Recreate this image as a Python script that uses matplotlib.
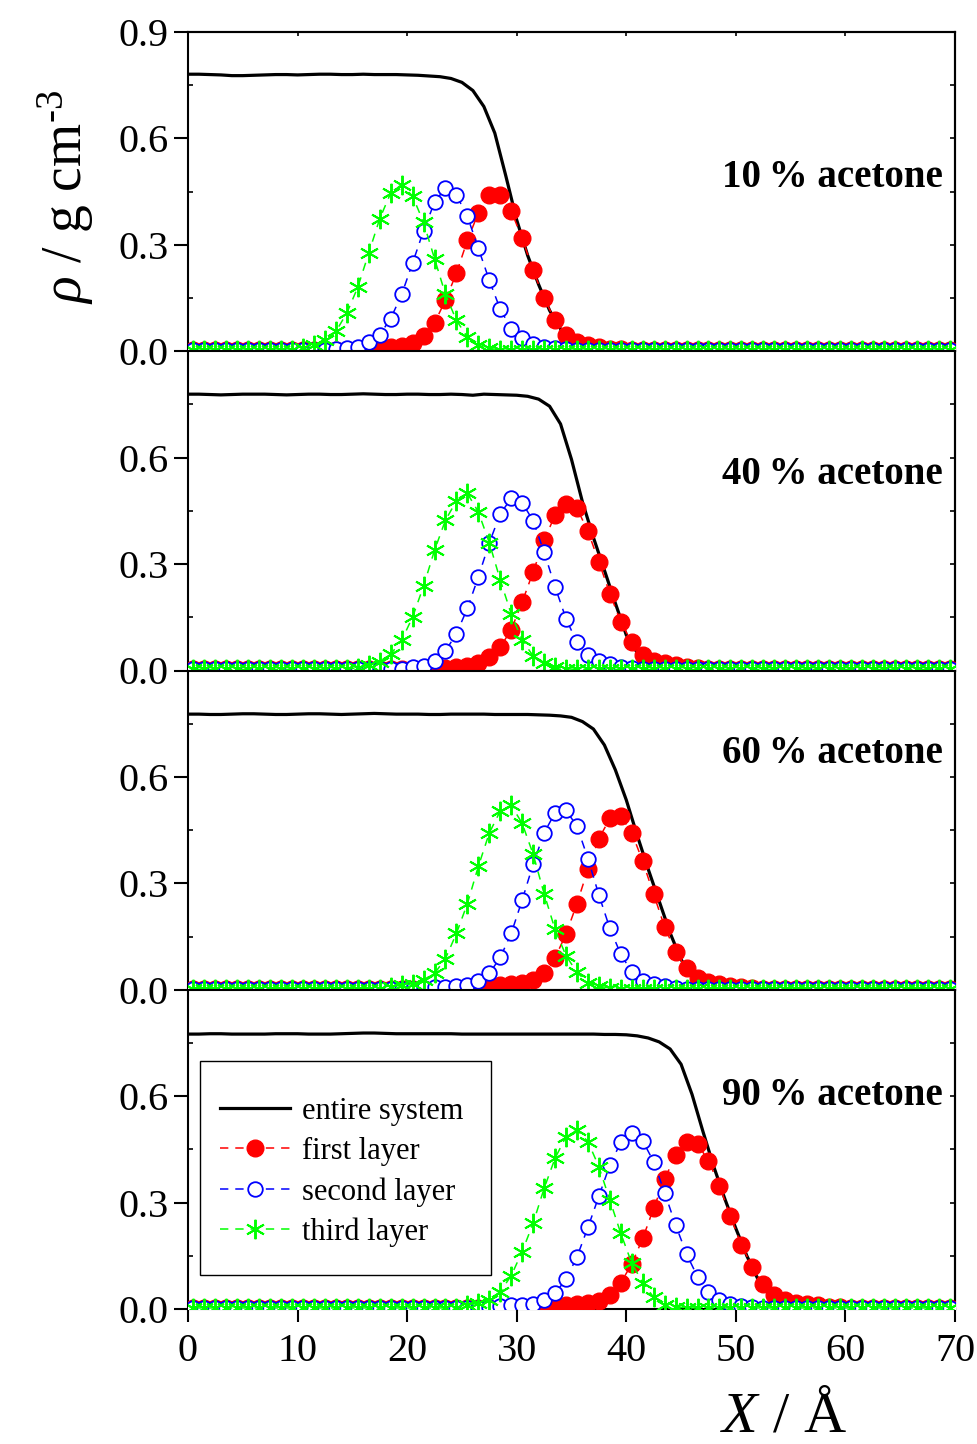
import numpy as np
import matplotlib
matplotlib.use("Agg")
import matplotlib.pyplot as plt
from matplotlib.patches import Rectangle
from matplotlib.ticker import FixedLocator, FormatStrFormatter

plt.rcParams['font.family'] = ['Liberation Serif', 'DejaVu Serif']
plt.rcParams['mathtext.fontset'] = 'custom'
plt.rcParams['mathtext.rm'] = 'Liberation Serif'
plt.rcParams['mathtext.it'] = 'Liberation Serif:italic'
plt.rcParams['mathtext.bf'] = 'Liberation Serif:bold'
plt.rcParams['lines.scale_dashes'] = False

# ---------------- data ----------------
x_layer = np.arange(0.5, 70.0, 1.0)     # layer profiles, 70 points
x_total = np.arange(0.0, 71.0, 1.0)     # entire system, 71 points

panel_labels = ["10\u2009% acetone", "40\u2009% acetone", "60\u2009% acetone", "90\u2009% acetone"]
series_labels = ["entire system", "first layer", "second layer", "third layer"]

# ---- 10 % acetone ----
total_10 = [0.781, 0.781, 0.780, 0.779, 0.777, 0.777, 0.778, 0.779, 0.780, 0.780,
            0.779, 0.780, 0.781, 0.781, 0.780, 0.780, 0.781, 0.780, 0.780, 0.780,
            0.779, 0.778, 0.776, 0.774, 0.769, 0.758, 0.735, 0.690, 0.615, 0.495,
            0.370, 0.270, 0.188, 0.115, 0.063, 0.032, 0.015, 0.007, 0.004, 0.002,
            0.001, 0.001, 0.001, 0.001, 0.001, 0.001, 0.001, 0.001, 0.001, 0.001,
            0.001, 0.001, 0.001, 0.001, 0.001, 0.001, 0.001, 0.001, 0.001, 0.001,
            0.001, 0.001, 0.001, 0.001, 0.001, 0.001, 0.001, 0.001, 0.001, 0.001,
            0.001]
first_10 = [0.003, 0.003, 0.003, 0.003, 0.003, 0.003, 0.003, 0.003, 0.003, 0.003,
            0.003, 0.003, 0.003, 0.003, 0.003, 0.004, 0.006, 0.008, 0.011, 0.015,
            0.022, 0.043, 0.080, 0.144, 0.220, 0.313, 0.390, 0.440, 0.440, 0.395,
            0.318, 0.228, 0.149, 0.087, 0.045, 0.026, 0.017, 0.011, 0.007, 0.005,
            0.003, 0.003, 0.003, 0.003, 0.003, 0.003, 0.003, 0.003, 0.003, 0.003,
            0.003, 0.003, 0.003, 0.003, 0.003, 0.003, 0.003, 0.003, 0.003, 0.003,
            0.003, 0.003, 0.003, 0.003, 0.003, 0.003, 0.003, 0.003, 0.003, 0.003]
second_10 = [0.003, 0.003, 0.003, 0.003, 0.003, 0.003, 0.003, 0.003, 0.003, 0.003,
             0.003, 0.003, 0.003, 0.006, 0.010, 0.012, 0.025, 0.047, 0.092, 0.160,
             0.249, 0.340, 0.420, 0.461, 0.440, 0.380, 0.290, 0.200, 0.118, 0.064,
             0.036, 0.020, 0.012, 0.008, 0.005, 0.003, 0.003, 0.003, 0.003, 0.003,
             0.003, 0.003, 0.003, 0.003, 0.003, 0.003, 0.003, 0.003, 0.003, 0.003,
             0.003, 0.003, 0.003, 0.003, 0.003, 0.003, 0.003, 0.003, 0.003, 0.003,
             0.003, 0.003, 0.003, 0.003, 0.003, 0.003, 0.003, 0.003, 0.003, 0.003]
third_10 = [0.003, 0.003, 0.003, 0.003, 0.003, 0.003, 0.003, 0.003, 0.003, 0.003,
            0.010, 0.017, 0.031, 0.056, 0.108, 0.181, 0.277, 0.374, 0.446, 0.470,
            0.437, 0.363, 0.261, 0.160, 0.087, 0.040, 0.017, 0.008, 0.004, 0.003,
            0.003, 0.003, 0.003, 0.003, 0.003, 0.003, 0.003, 0.003, 0.003, 0.003,
            0.003, 0.003, 0.003, 0.003, 0.003, 0.003, 0.003, 0.003, 0.003, 0.003,
            0.003, 0.003, 0.003, 0.003, 0.003, 0.003, 0.003, 0.003, 0.003, 0.003,
            0.003, 0.003, 0.003, 0.003, 0.003, 0.003, 0.003, 0.003, 0.003, 0.003]

# ---- 40 % acetone ----
total_40 = [0.779, 0.779, 0.778, 0.777, 0.778, 0.779, 0.779, 0.779, 0.778, 0.777,
            0.778, 0.779, 0.779, 0.778, 0.778, 0.779, 0.780, 0.779, 0.778, 0.778,
            0.779, 0.779, 0.778, 0.778, 0.779, 0.778, 0.776, 0.779, 0.778, 0.777,
            0.776, 0.773, 0.765, 0.745, 0.695, 0.595, 0.475, 0.375, 0.283, 0.190,
            0.100, 0.050, 0.022, 0.009, 0.004, 0.002, 0.001, 0.001, 0.001, 0.001,
            0.001, 0.001, 0.001, 0.001, 0.001, 0.001, 0.001, 0.001, 0.001, 0.001,
            0.001, 0.001, 0.001, 0.001, 0.001, 0.001, 0.001, 0.001, 0.001, 0.001,
            0.001]
first_40 = [0.003, 0.003, 0.003, 0.003, 0.003, 0.003, 0.003, 0.003, 0.003, 0.003,
            0.003, 0.003, 0.003, 0.003, 0.003, 0.003, 0.003, 0.003, 0.003, 0.003,
            0.003, 0.004, 0.005, 0.007, 0.010, 0.013, 0.020, 0.038, 0.066, 0.115,
            0.193, 0.278, 0.367, 0.438, 0.470, 0.457, 0.393, 0.306, 0.217, 0.137,
            0.079, 0.043, 0.028, 0.020, 0.015, 0.010, 0.007, 0.005, 0.003, 0.003,
            0.003, 0.003, 0.003, 0.003, 0.003, 0.003, 0.003, 0.003, 0.003, 0.003,
            0.003, 0.003, 0.003, 0.003, 0.003, 0.003, 0.003, 0.003, 0.003, 0.003]
second_40 = [0.003, 0.003, 0.003, 0.003, 0.003, 0.003, 0.003, 0.003, 0.003, 0.003,
             0.003, 0.003, 0.003, 0.003, 0.003, 0.003, 0.003, 0.003, 0.003, 0.005,
             0.010, 0.013, 0.026, 0.055, 0.104, 0.175, 0.264, 0.360, 0.442, 0.485,
             0.473, 0.422, 0.334, 0.236, 0.146, 0.079, 0.043, 0.026, 0.017, 0.010,
             0.006, 0.003, 0.003, 0.003, 0.003, 0.003, 0.003, 0.003, 0.003, 0.003,
             0.003, 0.003, 0.003, 0.003, 0.003, 0.003, 0.003, 0.003, 0.003, 0.003,
             0.003, 0.003, 0.003, 0.003, 0.003, 0.003, 0.003, 0.003, 0.003, 0.003]
third_40 = [0.003, 0.003, 0.003, 0.003, 0.003, 0.003, 0.003, 0.003, 0.003, 0.003,
            0.003, 0.003, 0.003, 0.003, 0.003, 0.008, 0.015, 0.024, 0.046, 0.085,
            0.151, 0.238, 0.339, 0.424, 0.478, 0.499, 0.447, 0.360, 0.255, 0.159,
            0.085, 0.041, 0.020, 0.010, 0.005, 0.003, 0.003, 0.003, 0.003, 0.003,
            0.003, 0.003, 0.003, 0.003, 0.003, 0.003, 0.003, 0.003, 0.003, 0.003,
            0.003, 0.003, 0.003, 0.003, 0.003, 0.003, 0.003, 0.003, 0.003, 0.003,
            0.003, 0.003, 0.003, 0.003, 0.003, 0.003, 0.003, 0.003, 0.003, 0.003]

# ---- 60 % acetone ----
total_60 = [0.777, 0.777, 0.776, 0.776, 0.777, 0.778, 0.778, 0.777, 0.776, 0.776,
            0.777, 0.778, 0.778, 0.777, 0.776, 0.777, 0.778, 0.779, 0.778, 0.777,
            0.777, 0.777, 0.776, 0.776, 0.777, 0.777, 0.777, 0.777, 0.776, 0.776,
            0.776, 0.776, 0.775, 0.774, 0.772, 0.768, 0.756, 0.735, 0.690, 0.620,
            0.535, 0.435, 0.340, 0.250, 0.160, 0.085, 0.040, 0.018, 0.008, 0.004,
            0.002, 0.001, 0.001, 0.001, 0.001, 0.001, 0.001, 0.001, 0.001, 0.001,
            0.001, 0.001, 0.001, 0.001, 0.001, 0.001, 0.001, 0.001, 0.001, 0.001,
            0.001]
first_60 = [0.003, 0.003, 0.003, 0.003, 0.003, 0.003, 0.003, 0.003, 0.003, 0.003,
            0.003, 0.003, 0.003, 0.003, 0.003, 0.003, 0.003, 0.003, 0.003, 0.003,
            0.003, 0.003, 0.003, 0.003, 0.005, 0.007, 0.009, 0.010, 0.012, 0.015,
            0.019, 0.028, 0.048, 0.090, 0.157, 0.243, 0.340, 0.426, 0.483, 0.489,
            0.443, 0.362, 0.269, 0.177, 0.107, 0.060, 0.034, 0.022, 0.016, 0.011,
            0.008, 0.005, 0.003, 0.003, 0.003, 0.003, 0.003, 0.003, 0.003, 0.003,
            0.003, 0.003, 0.003, 0.003, 0.003, 0.003, 0.003, 0.003, 0.003, 0.003]
second_60 = [0.003, 0.003, 0.003, 0.003, 0.003, 0.003, 0.003, 0.003, 0.003, 0.003,
             0.003, 0.003, 0.003, 0.003, 0.003, 0.003, 0.003, 0.003, 0.003, 0.003,
             0.003, 0.005, 0.007, 0.008, 0.010, 0.013, 0.024, 0.046, 0.091, 0.159,
             0.253, 0.354, 0.442, 0.499, 0.506, 0.461, 0.370, 0.267, 0.173, 0.100,
             0.050, 0.025, 0.016, 0.010, 0.006, 0.003, 0.003, 0.003, 0.003, 0.003,
             0.003, 0.003, 0.003, 0.003, 0.003, 0.003, 0.003, 0.003, 0.003, 0.003,
             0.003, 0.003, 0.003, 0.003, 0.003, 0.003, 0.003, 0.003, 0.003, 0.003]
third_60 = [0.003, 0.003, 0.003, 0.003, 0.003, 0.003, 0.003, 0.003, 0.003, 0.003,
            0.003, 0.003, 0.003, 0.003, 0.003, 0.003, 0.003, 0.003, 0.008, 0.013,
            0.017, 0.028, 0.046, 0.088, 0.159, 0.243, 0.348, 0.442, 0.504, 0.520,
            0.469, 0.382, 0.271, 0.170, 0.096, 0.049, 0.020, 0.010, 0.005, 0.003,
            0.003, 0.003, 0.003, 0.003, 0.003, 0.003, 0.003, 0.003, 0.003, 0.003,
            0.003, 0.003, 0.003, 0.003, 0.003, 0.003, 0.003, 0.003, 0.003, 0.003,
            0.003, 0.003, 0.003, 0.003, 0.003, 0.003, 0.003, 0.003, 0.003, 0.003]

# ---- 90 % acetone ----
total_90 = [0.775, 0.775, 0.776, 0.776, 0.775, 0.775, 0.775, 0.775, 0.776, 0.776,
            0.776, 0.775, 0.775, 0.775, 0.776, 0.777, 0.778, 0.778, 0.777, 0.776,
            0.776, 0.776, 0.776, 0.776, 0.776, 0.775, 0.775, 0.775, 0.775, 0.775,
            0.775, 0.775, 0.775, 0.775, 0.775, 0.775, 0.775, 0.775, 0.774, 0.774,
            0.773, 0.770, 0.764, 0.753, 0.733, 0.690, 0.605, 0.500, 0.400, 0.310,
            0.227, 0.150, 0.085, 0.042, 0.018, 0.008, 0.004, 0.002, 0.001, 0.001,
            0.001, 0.001, 0.001, 0.001, 0.001, 0.001, 0.001, 0.001, 0.001, 0.001,
            0.001]
first_90 = [0.003, 0.003, 0.003, 0.003, 0.003, 0.003, 0.003, 0.003, 0.003, 0.003,
            0.003, 0.003, 0.003, 0.003, 0.003, 0.003, 0.003, 0.003, 0.003, 0.003,
            0.003, 0.003, 0.003, 0.003, 0.003, 0.003, 0.003, 0.003, 0.003, 0.003,
            0.005, 0.006, 0.008, 0.010, 0.011, 0.013, 0.016, 0.022, 0.039, 0.074,
            0.127, 0.199, 0.284, 0.366, 0.434, 0.472, 0.465, 0.418, 0.347, 0.262,
            0.180, 0.119, 0.070, 0.040, 0.025, 0.018, 0.013, 0.010, 0.007, 0.005,
            0.003, 0.003, 0.003, 0.003, 0.003, 0.003, 0.003, 0.003, 0.003, 0.003]
second_90 = [0.003, 0.003, 0.003, 0.003, 0.003, 0.003, 0.003, 0.003, 0.003, 0.003,
             0.003, 0.003, 0.003, 0.003, 0.003, 0.003, 0.003, 0.003, 0.003, 0.003,
             0.003, 0.003, 0.003, 0.003, 0.003, 0.003, 0.003, 0.005, 0.008, 0.010,
             0.010, 0.014, 0.024, 0.044, 0.084, 0.147, 0.230, 0.318, 0.406, 0.470,
             0.495, 0.474, 0.415, 0.328, 0.237, 0.155, 0.091, 0.049, 0.026, 0.013,
             0.008, 0.005, 0.003, 0.003, 0.003, 0.003, 0.003, 0.003, 0.003, 0.003,
             0.003, 0.003, 0.003, 0.003, 0.003, 0.003, 0.003, 0.003, 0.003, 0.003]
third_90 = [0.003, 0.003, 0.003, 0.003, 0.003, 0.003, 0.003, 0.003, 0.003, 0.003,
            0.003, 0.003, 0.003, 0.003, 0.003, 0.003, 0.003, 0.003, 0.003, 0.003,
            0.003, 0.003, 0.003, 0.003, 0.003, 0.010, 0.018, 0.026, 0.049, 0.094,
            0.162, 0.242, 0.340, 0.425, 0.486, 0.505, 0.472, 0.401, 0.307, 0.213,
            0.129, 0.074, 0.033, 0.012, 0.006, 0.003, 0.003, 0.003, 0.003, 0.003,
            0.003, 0.003, 0.003, 0.003, 0.003, 0.003, 0.003, 0.003, 0.003, 0.003,
            0.003, 0.003, 0.003, 0.003, 0.003, 0.003, 0.003, 0.003, 0.003, 0.003]

totals = [total_10, total_40, total_60, total_90]
firsts = [first_10, first_40, first_60, first_90]
seconds = [second_10, second_40, second_60, second_90]
thirds = [third_10, third_40, third_60, third_90]

x_ticks = [0, 10, 20, 30, 40, 50, 60, 70]
y_ticks_top = [0.0, 0.3, 0.6, 0.9]
y_ticks_other = [0.0, 0.3, 0.6]

# ---------------- figure ----------------
W, H = 978, 1444
fig = plt.figure(figsize=(W / 100, H / 100), dpi=100)

ax_left, ax_right = 188, 955
ax_top, ax_bot = 32, 1309
ph = (ax_bot - ax_top) / 4.0

label_pos = [0.545, 0.615, 0.741, 0.669]

axes = []
for i in range(4):
    top_px = ax_top + ph * i
    rect = [ax_left / W, 1 - (top_px + ph) / H, (ax_right - ax_left) / W, ph / H]
    ax = fig.add_axes(rect)
    axes.append(ax)

    ax.plot(x_total, totals[i], color='black', lw=2.3, zorder=2,
            label=series_labels[0])
    ax.plot(x_layer, firsts[i], color='red', lw=1.1, dashes=(6, 5),
            marker='o', ms=12, mfc='red', mec='red', zorder=3,
            label=series_labels[1])
    ax.plot(x_layer, seconds[i], color='blue', lw=1.1, dashes=(6, 5),
            marker='o', ms=10.5, mfc='white', mec='blue', mew=1.3, zorder=4,
            label=series_labels[2])
    ax.plot(x_layer, thirds[i], color='#00ff00', lw=1.1, dashes=(6, 5),
            marker=(6, 2, 0), ms=14, mec='#00ff00', mew=1.4, zorder=5,
            label=series_labels[3])

    ax.set_xlim(0, 70)
    ax.set_ylim(0, 0.9)
    for sp in ax.spines.values():
        sp.set_linewidth(1.5)

    ax.yaxis.set_major_locator(FixedLocator(y_ticks_top if i == 0 else y_ticks_other))
    ax.yaxis.set_major_formatter(FormatStrFormatter('%.1f'))
    ax.yaxis.set_minor_locator(FixedLocator([0.15, 0.45, 0.75]))
    ax.tick_params(axis='y', which='major', direction='out', length=10, width=1.5,
                   labelsize=29, pad=4, left=True, right=False)
    ax.tick_params(axis='y', which='minor', direction='in', length=3.5, width=1.2,
                   left=True, right=False)

    ax.xaxis.set_major_locator(FixedLocator(x_ticks))
    if i == 3:
        ax.tick_params(axis='x', which='major', direction='out', length=9.5, width=1.5,
                       labelsize=29, pad=8, top=False)
    else:
        ax.tick_params(axis='x', which='both', bottom=False, labelbottom=False, top=False)

    # right-side inward ticks
    sy = ax.secondary_yaxis('right')
    sy.yaxis.set_major_locator(FixedLocator([0.15, 0.3, 0.45, 0.6, 0.75]))
    sy.tick_params(axis='y', direction='in', length=3.5, width=1.2, labelright=False)
    sy.spines['right'].set_linewidth(1.5)
    if i == 0:
        sx = ax.secondary_xaxis('top')
        sx.xaxis.set_major_locator(FixedLocator(x_ticks))
        sx.tick_params(axis='x', direction='in', length=3, width=1.2, labeltop=False)
        sx.spines['top'].set_linewidth(1.5)

    ax.text(0.984, label_pos[i], panel_labels[i], transform=ax.transAxes,
            ha='right', va='center', fontsize=28, fontweight='bold')

# legend in bottom panel: frame drawn separately so padding can differ per side
ax4 = axes[3]
frame = Rectangle((0.01565, 0.1065), 0.3794, 0.6703, transform=ax4.transAxes,
                  facecolor='white', edgecolor='black', linewidth=1.0,
                  zorder=6, clip_on=False)
ax4.add_patch(frame)
leg = ax4.legend(loc='upper left', bbox_to_anchor=(0.0417, 0.664),
                 borderaxespad=0, borderpad=0, fontsize=22, frameon=False,
                 handlelength=2.3, handletextpad=0.4, labelspacing=0.36,
                 numpoints=1)
leg.set_zorder(7)

# axis labels
hyphen = '\u2010'
ylabel_text = '$\\rho$ / g cm$^{\\mathrm{' + hyphen + '3}}$'
fig.text(82 / W, 1 - 197 / H, ylabel_text, rotation=90,
         rotation_mode='anchor', ha='center', va='baseline', fontsize=40)
fig.text(783 / W, 1 - 1431 / H, r'$X$ / Å', ha='center', va='baseline', fontsize=42)

fig.savefig('out.png', dpi=100)
